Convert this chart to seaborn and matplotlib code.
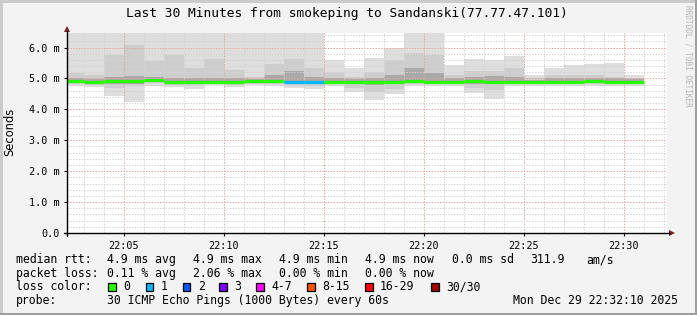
import matplotlib
matplotlib.use("Agg")
import matplotlib.pyplot as plt
import seaborn as sns
import numpy as np
import pandas as pd
from matplotlib.patches import Rectangle, Polygon
from matplotlib.lines import Line2D

# ---------------- data ----------------
# each column is one 60 s step, ending at 22:03 ... 22:31 (minutes after 22:00)
end_minute = list(range(3, 32))
median_ms = [4.92, 4.88, 4.91, 4.93, 4.95, 4.90, 4.90, 4.90, 4.88, 4.91,
             4.91, 4.89, 4.87, 4.89, 4.89, 4.90, 4.90, 4.92, 4.89, 4.89,
             4.91, 4.90, 4.89, 4.89, 4.89, 4.89, 4.92, 4.89, 4.89]
loss_count = [0, 0, 0, 0, 0, 0, 0, 0, 0, 0,
              0, 1, 1, 0, 0, 0, 0, 0, 0, 0,
              0, 0, 0, 0, 0, 0, 0, 0, 0]
smoke_min = [4.77, 4.72, 4.42, 4.24, 4.77, 4.71, 4.66, 4.79, 4.71, 4.78,
             4.75, 4.69, 4.65, 4.75, 4.57, 4.31, 4.50, 4.77, 4.75, 4.77,
             4.53, 4.34, 4.75, 4.77, 4.75, 4.75, 4.77, 4.77, 4.75]
smoke_max = [7.00, 7.00, 7.00, 7.00, 7.00, 7.00, 7.00, 7.00, 7.00, 7.00,
             7.00, 7.00, 7.00, 5.60, 5.34, 5.65, 6.00, 7.00, 7.00, 5.42,
             5.62, 5.59, 5.71, 5.10, 5.33, 5.42, 5.46, 5.49, 5.12]
mid_top = [5.16, 5.10, 5.76, 6.08, 5.57, 5.76, 5.35, 5.63, 5.28, 5.05,
           5.46, 5.63, 5.33, 5.20, 5.05, 5.22, 5.60, 5.81, 5.75, 5.10,
           5.25, 5.25, 5.35, 5.00, 5.10, 5.10, 5.10, 5.05, 5.00]
mid_bot = [4.82, 4.80, 4.70, 4.75, 4.84, 4.80, 4.78, 4.83, 4.79, 4.83,
           4.81, 4.78, 4.76, 4.81, 4.70, 4.55, 4.65, 4.83, 4.81, 4.83,
           4.70, 4.62, 4.81, 4.83, 4.82, 4.82, 4.83, 4.83, 4.82]
core_top = [5.00, 4.98, 5.05, 5.08, 5.05, 5.00, 5.00, 5.02, 5.00, 4.98,
            5.10, 5.25, 5.05, 5.00, 4.98, 5.00, 5.10, 5.33, 5.17, 5.00,
            5.05, 5.08, 5.05, 4.95, 5.00, 5.00, 5.00, 5.00, 4.98]
core_bot = [4.85, 4.84, 4.82, 4.83, 4.87, 4.84, 4.84, 4.85, 4.83, 4.85,
            4.85, 4.83, 4.82, 4.84, 4.82, 4.80, 4.82, 4.86, 4.84, 4.85,
            4.83, 4.82, 4.84, 4.85, 4.84, 4.84, 4.85, 4.84, 4.84]

x_tick_minutes = [5, 10, 15, 20, 25, 30]
x_tick_labels = ["22:05", "22:10", "22:15", "22:20", "22:25", "22:30"]
y_tick_values = [0, 1, 2, 3, 4, 5, 6]
y_tick_labels = ["0.0", "1.0 m", "2.0 m", "3.0 m", "4.0 m", "5.0 m", "6.0 m"]

loss_labels = ["0", "1", "2", "3", "4-7", "8-15", "16-29", "30/30"]
loss_colors = ["#26ff00", "#00b8ff", "#0059ff", "#7e00ff", "#ff00ff",
               "#ff5500", "#ff0000", "#a10000"]

title = "Last 30 Minutes from smokeping to Sandanski(77.77.47.101)"

# ---------------- figure ----------------
sns.set_theme(style="white")
plt.rcParams["font.family"] = ["DejaVu Sans Mono", "DejaVu Sans"]

W, H = 697, 315
fig = plt.figure(figsize=(W / 100, H / 100), dpi=100, facecolor="#f3f3f3")


def fx(x):
    return x / W


def fy(y):
    return 1 - y / H


# frame (3D border)
fig.add_artist(Rectangle((0, 0), fx(2.5), 1, transform=fig.transFigure,
                         facecolor="#cbcbcb", edgecolor="none"))
fig.add_artist(Rectangle((0, fy(2.5)), 1, 2.5 / H, transform=fig.transFigure,
                         facecolor="#cbcbcb", edgecolor="none"))
fig.add_artist(Rectangle((fx(694.5), 0), 2.5 / W, 1, transform=fig.transFigure,
                         facecolor="#9e9e9e", edgecolor="none"))
fig.add_artist(Rectangle((0, 0), 1, 2.5 / H, transform=fig.transFigure,
                         facecolor="#9e9e9e", edgecolor="none"))

ax = fig.add_axes([fx(67), fy(233), 600 / W, 200 / H])
ax.set_facecolor("white")

df = pd.DataFrame({
    "start": [m - 1 for m in end_minute],
    "end": end_minute,
    "median": median_ms,
    "loss": loss_count,
    "smin": smoke_min, "smax": smoke_max,
    "mtop": mid_top, "mbot": mid_bot,
    "ctop": core_top, "cbot": core_bot,
})

ax.bar(df["start"], df["smax"] - df["smin"], bottom=df["smin"], width=1,
       align="edge", color="#dedede", linewidth=0, zorder=1)
ax.bar(df["start"], df["mtop"] - df["mbot"], bottom=df["mbot"], width=1,
       align="edge", color="#cdcdcd", linewidth=0, zorder=1.1)
ax.bar(df["start"], df["ctop"] - df["cbot"], bottom=df["cbot"], width=1,
       align="edge", color="#a9a9a9", linewidth=0, zorder=1.2)
ax.hlines(df["median"], df["start"], df["end"],
          colors=[loss_colors[i] for i in df["loss"]],
          linewidth=2.3, zorder=3)

ax.set_xlim(2 + 10 / 60, 32 + 10 / 60)
ax.set_ylim(0, 6.47)
ax.set_xticks(x_tick_minutes)
ax.set_xticklabels(x_tick_labels)
ax.set_xticks(list(range(3, 33)), minor=True)
ax.set_yticks(y_tick_values)
ax.set_yticklabels(y_tick_labels)
ax.set_yticks(np.arange(0, 6.5, 0.2), minor=True)

ax.set_axisbelow(False)
ax.grid(which="minor", color="#d4d4d4", linestyle=(0, (1.4, 1.4)), linewidth=0.72)
ax.grid(which="major", color="#e8a2a2", linestyle=(0, (1.4, 1.4)), linewidth=0.72)
for s in ax.spines.values():
    s.set_visible(False)
ax.tick_params(which="major", length=2.5, width=0.8, color="black",
               labelsize=7.3, pad=3, left=True, bottom=True)
ax.tick_params(which="minor", length=0)
for lab in ax.get_xticklabels() + ax.get_yticklabels():
    lab.set_family("DejaVu Sans Mono")
    lab.set_color("black")

# axis lines with arrows
fig.add_artist(Line2D([fx(67), fx(67)], [fy(236), fy(31)],
                      transform=fig.transFigure, color="black", lw=1.0))
fig.add_artist(Line2D([fx(64), fx(670)], [fy(233), fy(233)],
                      transform=fig.transFigure, color="black", lw=1.0))
fig.add_artist(Polygon([(fx(67), fy(26)), (fx(64), fy(32)), (fx(70), fy(32))],
                       closed=True, transform=fig.transFigure,
                       facecolor="#7f1f1f", edgecolor="none"))
fig.add_artist(Polygon([(fx(675), fy(233)), (fx(669), fy(230)), (fx(669), fy(236))],
                       closed=True, transform=fig.transFigure,
                       facecolor="#7f1f1f", edgecolor="none"))

# texts
fig.text(fx(347), fy(13), title, ha="center", va="center",
         fontsize=9.3, family="DejaVu Sans Mono", color="black")
fig.text(fx(10), fy(132), "Seconds", rotation=90, ha="center", va="center",
         fontsize=8.3, family="DejaVu Sans", color="black")
fig.text(fx(688), fy(5), "RRDTOOL / TOBI OETIKER", rotation=270,
         ha="center", va="top", fontsize=5.6, family="DejaVu Sans Mono",
         color="#b4b4b4")

LF = dict(fontsize=8.3, family="DejaVu Sans Mono", color="black", va="center", ha="left")
row_y = [259.7, 273.2, 287.0, 300.5]

fig.text(fx(16), fy(row_y[0]), "median rtt:", **LF)
for x, s in [(107, "4.9 ms avg"), (193, "4.9 ms max"), (279, "4.9 ms min"),
             (365, "4.9 ms now"), (452, "0.0 ms sd"), (530, "311.9"), (586, "am/s")]:
    fig.text(fx(x), fy(row_y[0]), s, **LF)

fig.text(fx(16), fy(row_y[1]), "packet loss:", **LF)
for x, s in [(107, "0.11 % avg"), (193, "2.06 % max"), (279, "0.00 % min"),
             (365, "0.00 % now")]:
    fig.text(fx(x), fy(row_y[1]), s, **LF)

fig.text(fx(16), fy(row_y[2]), "loss color:", **LF)
box_x = [108.3, 145.7, 182.7, 219.3, 256.0, 307.3, 365.0, 431.0]
for bx, lab, col in zip(box_x, loss_labels, loss_colors):
    fig.add_artist(Rectangle((fx(bx), fy(290.8)), 7.5 / W, 7.5 / H,
                             transform=fig.transFigure, facecolor=col,
                             edgecolor="black", linewidth=0.9))
    fig.text(fx(bx + 15), fy(row_y[2]), lab, **LF)

fig.text(fx(16), fy(row_y[3]), "probe:", **LF)
fig.text(fx(107), fy(row_y[3]), "30 ICMP Echo Pings (1000 Bytes) every 60s", **LF)
fig.text(fx(513), fy(row_y[3]), "Mon Dec 29 22:32:10 2025", **LF)

fig.savefig("out.png", dpi=100, facecolor=fig.get_facecolor())
